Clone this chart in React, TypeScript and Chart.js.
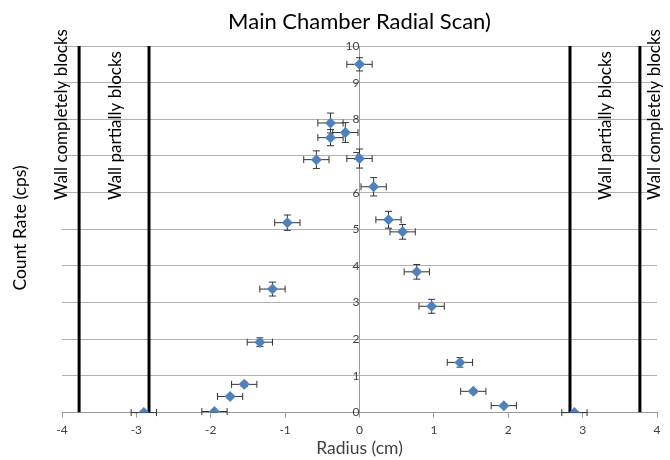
import React, { useEffect, useRef } from "react";
import { Chart, registerables } from "chart.js";

Chart.register(...registerables);

const radius = [0, -0.39, -0.19, -0.39, -0.58, 0, 0.19, -0.97, 0.39, 0.58, 0.77, -1.17, 0.97, -1.34, 1.35, -1.55, 1.53, -1.74, 1.94, -1.95, -2.9, 2.89];
const countRate = [9.5, 7.9, 7.64, 7.5, 6.9, 6.93, 6.16, 5.18, 5.26, 4.93, 3.84, 3.37, 2.9, 1.92, 1.37, 0.77, 0.58, 0.44, 0.19, 0.03, 0, 0];
const radiusErr = [0.17, 0.17, 0.17, 0.17, 0.17, 0.17, 0.17, 0.17, 0.17, 0.17, 0.17, 0.17, 0.17, 0.17, 0.17, 0.17, 0.17, 0.17, 0.17, 0.17, 0.17, 0.17];
const countErr = [0.18, 0.27, 0.27, 0.22, 0.24, 0.26, 0.25, 0.21, 0.23, 0.2, 0.2, 0.19, 0.19, 0.12, 0.13, 0.06, 0.05, 0.04, 0.03, 0.02, 0, 0];

const wallComplete = [-3.77, 3.77];
const wallPartial = [-2.83, 2.83];
const wallLabels = [
  { x: -4.0, text: "Wall completely blocks" },
  { x: -3.28, text: "Wall partially blocks" },
  { x: 3.31, text: "Wall partially blocks" },
  { x: 3.96, text: "Wall completely blocks" },
];
const xTicks = [-4, -3, -2, -1, 0, 1, 2, 3, 4];
const yTicks = [0, 1, 2, 3, 4, 5, 6, 7, 8, 9, 10];

const FONT = "Lato, 'Open Sans', sans-serif";

const errorBarPlugin = {
  id: "errorBars",
  beforeDatasetsDraw(chart: any) {
    const xs = chart.scales.x;
    const ys = chart.scales.y;
    const ctx = chart.ctx;
    ctx.save();
    ctx.strokeStyle = "#333";
    ctx.lineWidth = 1;
    const cap = 3.5;
    for (let i = 0; i < radius.length; i++) {
      const cx = xs.getPixelForValue(radius[i]);
      const cy = ys.getPixelForValue(countRate[i]);
      const x0 = xs.getPixelForValue(radius[i] - radiusErr[i]);
      const x1 = xs.getPixelForValue(radius[i] + radiusErr[i]);
      ctx.beginPath();
      ctx.moveTo(x0, cy); ctx.lineTo(x1, cy);
      ctx.moveTo(x0, cy - cap); ctx.lineTo(x0, cy + cap);
      ctx.moveTo(x1, cy - cap); ctx.lineTo(x1, cy + cap);
      if (countErr[i] > 0) {
        const y0 = ys.getPixelForValue(countRate[i] - countErr[i]);
        const y1 = ys.getPixelForValue(countRate[i] + countErr[i]);
        ctx.moveTo(cx, y0); ctx.lineTo(cx, y1);
        ctx.moveTo(cx - cap, y0); ctx.lineTo(cx + cap, y0);
        ctx.moveTo(cx - cap, y1); ctx.lineTo(cx + cap, y1);
      }
      ctx.stroke();
    }
    ctx.restore();
  },
};

const labelsPlugin = {
  id: "labelsPlugin",
  afterDraw(chart: any) {
    const ctx = chart.ctx;
    const xs = chart.scales.x;
    const area = chart.chartArea;
    const midX = (area.left + area.right) / 2;
    ctx.save();
    ctx.fillStyle = "#000";
    ctx.font = `22px ${FONT}`;
    ctx.textAlign = "center";
    ctx.textBaseline = "middle";
    ctx.fillText("Main Chamber Radial Scan)", midX, 22);
    ctx.fillStyle = "#404040";
    ctx.font = `17.5px ${FONT}`;
    ctx.fillText("Radius (cm)", midX, 448);
    ctx.fillStyle = "#000";
    ctx.font = `17px ${FONT}`;
    for (const l of wallLabels) {
      const px = xs.getPixelForValue(l.x);
      ctx.save();
      ctx.translate(px, 200);
      ctx.rotate(-Math.PI / 2);
      ctx.textAlign = "left";
      ctx.textBaseline = "middle";
      ctx.fillText(l.text, 0, 0);
      ctx.restore();
    }
    ctx.font = `17.5px ${FONT}`;
    ctx.save();
    ctx.translate(20, 228);
    ctx.rotate(-Math.PI / 2);
    ctx.textAlign = "center";
    ctx.textBaseline = "middle";
    ctx.fillText("Count Rate (cps)", 0, 0);
    ctx.restore();
    ctx.restore();
  },
};

export default function App() {
  const ref = useRef<HTMLCanvasElement>(null);
  useEffect(() => {
    document.body.style.margin = "0";
    const canvas = ref.current!;
    const lineDs = (x: number) => ({
      type: "line" as const,
      data: [{ x, y: 0 }, { x, y: 10 }],
      borderColor: "#000",
      borderWidth: 3,
      pointRadius: 0,
      fill: false,
    });
    const chart = new Chart(canvas, {
      type: "scatter",
      data: {
        datasets: [
          {
            type: "scatter",
            data: radius.map((x, i) => ({ x, y: countRate[i] })),
            pointStyle: "rectRot",
            pointRadius: 5.5,
            borderWidth: 0,
            backgroundColor: "#4F81BD",
            borderColor: "#4F81BD",
            order: 0,
          } as any,
          ...[...wallComplete, ...wallPartial].map((x) => ({ ...lineDs(x), order: 5 })),
        ],
      },
      options: {
        responsive: false,
        animation: false,
        layout: { padding: { left: 62, right: 13, top: 46, bottom: 18 } },
        plugins: { legend: { display: false }, tooltip: { enabled: false }, title: { display: false } },
        scales: {
          x: {
            type: "linear",
            min: -4,
            max: 4,
            afterBuildTicks: (s: any) => { s.ticks = xTicks.map((v) => ({ value: v })); },
            grid: { drawOnChartArea: false, drawTicks: true, tickLength: 5, color: "#9a9a9a" },
            border: { color: "#9a9a9a" },
            ticks: { font: { family: FONT, size: 12 }, color: "#404040", padding: 5 },
            title: { display: false },
          },
          y: {
            type: "linear",
            position: { x: 0 } as any,
            min: 0,
            max: 10,
            afterBuildTicks: (s: any) => { s.ticks = yTicks.map((v) => ({ value: v })); },
            grid: { color: "#b0b0b0", tickLength: 5 },
            border: { color: "#9a9a9a" },
            ticks: { font: { family: FONT, size: 12 }, color: "#404040", padding: 2 },
          },
        },
      } as any,
      plugins: [errorBarPlugin, labelsPlugin],
    });
    return () => chart.destroy();
  }, []);
  return <canvas ref={ref} width={670} height={460} style={{ display: "block" }} />;
}
